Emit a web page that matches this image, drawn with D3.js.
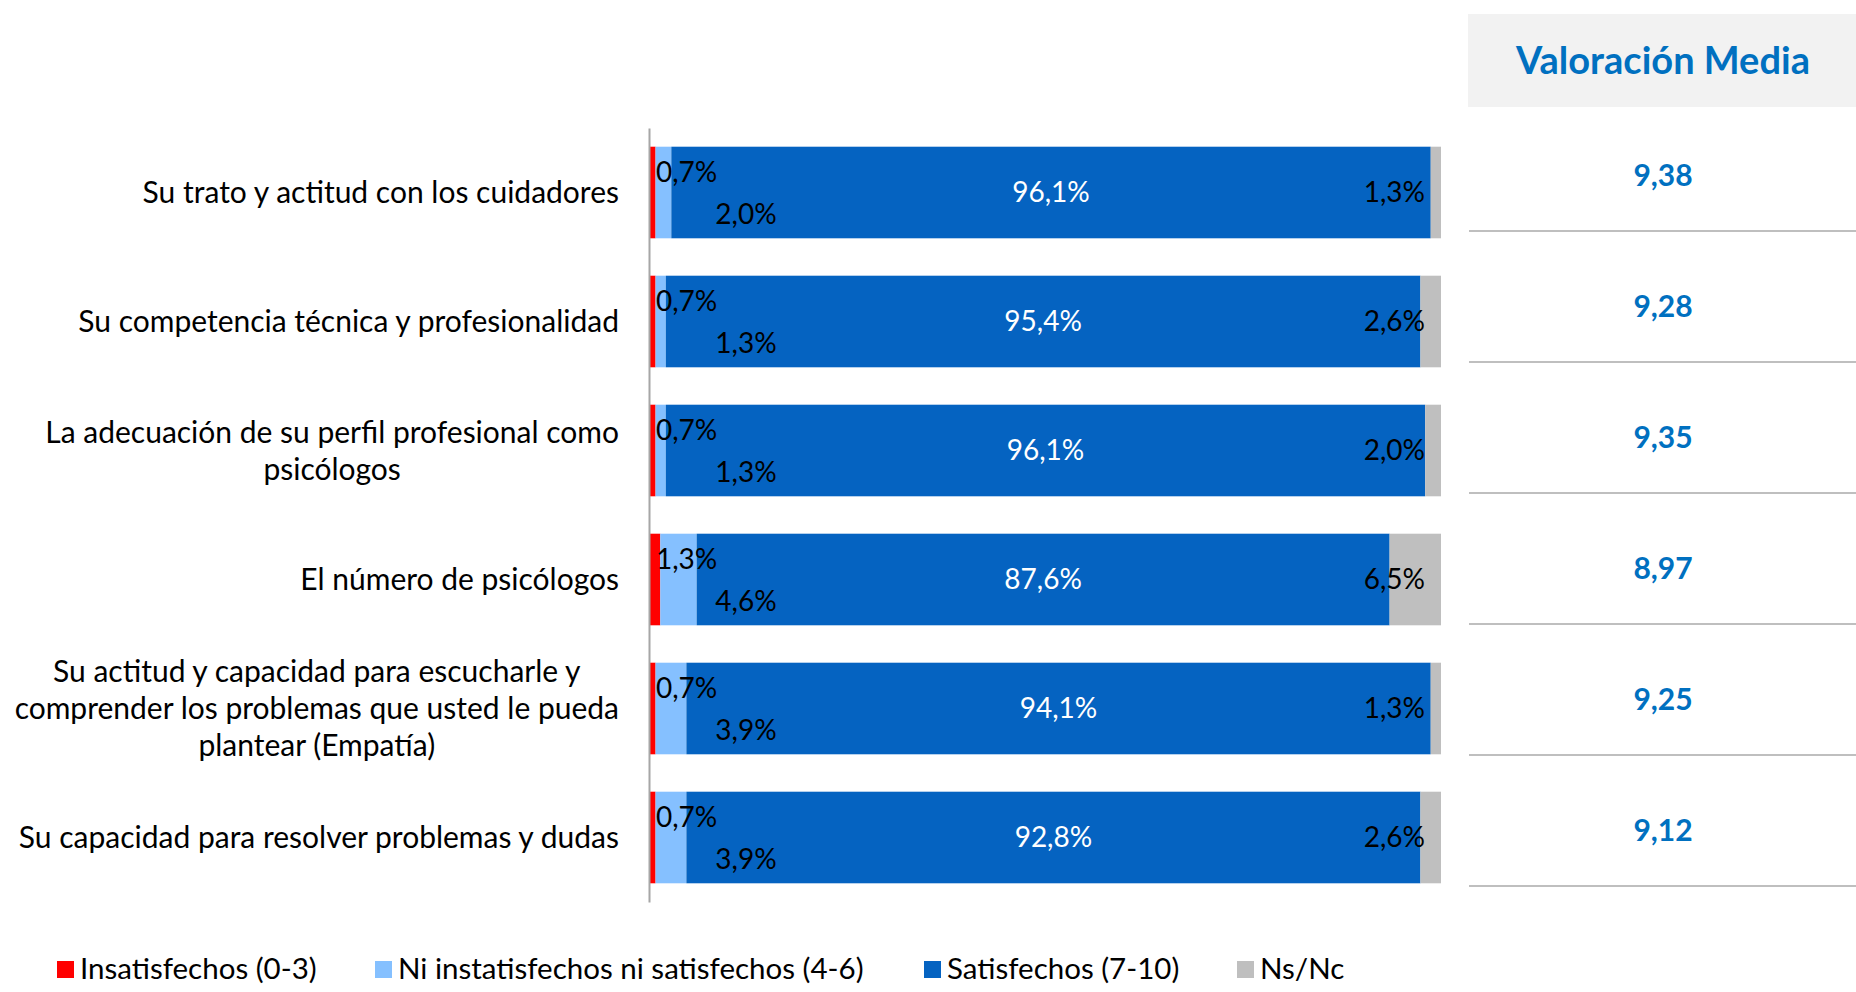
<!DOCTYPE html>
<html>
<head>
<meta charset="utf-8">
<script src="https://cdn.jsdelivr.net/npm/d3@7"></script>
<style>
  html, body { margin: 0; padding: 0; background: #fff; }
  svg { display: block; font-family: Lato, "Open Sans", sans-serif; }
</style>
</head>
<body>
<svg id="chart" width="1856" height="992"></svg>
<script>
// ---- data ----
const categories = [
  "Su trato y actitud con los cuidadores",
  "Su competencia técnica y profesionalidad",
  "La adecuación de su perfil profesional como\npsicólogos",
  "El número de psicólogos",
  "Su actitud y capacidad para escucharle y\ncomprender los problemas que usted le pueda\nplantear (Empatía)",
  "Su capacidad para resolver problemas y dudas"
];
const seriesNames = ["Insatisfechos (0-3)", "Ni instatisfechos ni satisfechos (4-6)", "Satisfechos (7-10)", "Ns/Nc"];
const insatisfechos = [0.7, 0.7, 0.7, 1.3, 0.7, 0.7];
const niSatisfechos = [2.0, 1.3, 1.3, 4.6, 3.9, 3.9];
const satisfechos   = [96.1, 95.4, 96.1, 87.6, 94.1, 92.8];
const nsnc          = [1.3, 2.6, 2.0, 6.5, 1.3, 2.6];
const valoracionMedia = [9.38, 9.28, 9.35, 8.97, 9.25, 9.12];
const tableTitle = "Valoración Media";

// ---- styles ----
const colors = ["#FF0000", "#85C0FF", "#0563C1", "#BFBFBF"];
const labelColors = ["#000", "#000", "#fff", "#000"];

const locale = d3.formatLocale({decimal: ",", thousands: ".", grouping: [3], currency: ["", "€"]});
const fmtPct = locale.format(".1f");
const fmtVal = locale.format(".2f");

const svg = d3.select("#chart");

const rows = categories.map((c, i) => ({
  cat: c,
  s0: insatisfechos[i], s1: niSatisfechos[i], s2: satisfechos[i], s3: nsnc[i]
}));
const keys = ["s0", "s1", "s2", "s3"];
const stacked = d3.stack().keys(keys).offset(d3.stackOffsetExpand)(rows);

const x = d3.scaleLinear().domain([0, 1]).range([650, 1441]);
const y = d3.scaleBand().domain(categories).range([128, 902]).paddingInner(0.29).paddingOuter(0.145);

// bars
const g = svg.append("g");
stacked.forEach((layer, li) => {
  g.selectAll(null).data(layer).enter().append("rect")
    .attr("x", d => x(d[0]))
    .attr("y", d => y(d.data.cat))
    .attr("width", d => Math.max(0, x(d[1]) - x(d[0])))
    .attr("height", y.bandwidth())
    .attr("fill", colors[li]);
});

// axis line (category axis)
const yAxis = d3.axisLeft(y).tickSize(0).tickFormat("");
svg.append("g").attr("transform", "translate(649,0)").call(yAxis)
  .call(s => s.select(".domain").attr("stroke", "#A6A6A6").attr("stroke-width", 2));

// category labels: block right-aligned, lines centered within block
categories.forEach(c => {
  const lines = c.split("\n");
  const lh = 37;
  const cy = y(c) + y.bandwidth() / 2;
  const t = svg.append("text").attr("font-size", 30).attr("fill", "#000").attr("text-anchor", "middle");
  lines.forEach((ln, k) => {
    t.append("tspan").text(ln)
      .attr("x", 0)
      .attr("y", cy + (k - (lines.length - 1) / 2) * lh)
      .attr("dy", "0.35em");
  });
  const w = t.node().getBBox().width;
  t.selectAll("tspan").attr("x", 619 - w / 2);
});

// value labels
const fs = 28;
stacked.forEach((layer, li) => {
  layer.forEach(d => {
    const v = d.data["s" + li];
    const cy = y(d.data.cat) + y.bandwidth() / 2;
    let tx, ty, anchor;
    if (li === 0) { tx = x(0) + 6; ty = cy - 20; anchor = "start"; }
    else if (li === 1) { tx = x(0) + 96; ty = cy + 22; anchor = "middle"; }
    else if (li === 2) { tx = (x(d[0]) + x(d[1])) / 2; ty = cy; anchor = "middle"; }
    else { tx = x(1) - 16; ty = cy; anchor = "end"; }
    svg.append("text")
      .attr("x", tx).attr("y", ty).attr("dy", "0.35em")
      .attr("text-anchor", anchor)
      .attr("font-size", fs)
      .attr("fill", labelColors[li])
      .text(fmtPct(v) + "%");
  });
});

// ---- table ----
svg.append("rect").attr("x", 1468).attr("y", 14).attr("width", 1856 - 1468).attr("height", 93).attr("fill", "#F2F2F2");
svg.append("text").attr("x", 1663).attr("y", 61).attr("dy", "0.35em")
  .attr("text-anchor", "middle").attr("font-size", 38).attr("font-weight", "bold")
  .attr("fill", "#0070C0").text(tableTitle);

const ty = d3.scaleBand().domain(d3.range(valoracionMedia.length)).range([100, 886]);
valoracionMedia.forEach((v, i) => {
  svg.append("line")
    .attr("x1", 1469).attr("x2", 1856)
    .attr("y1", ty(i) + ty.bandwidth()).attr("y2", ty(i) + ty.bandwidth())
    .attr("stroke", "#BFBFBF").attr("stroke-width", 2);
  svg.append("text")
    .attr("x", 1663).attr("y", ty(i) + ty.bandwidth() / 2 + 10).attr("dy", "0.35em")
    .attr("text-anchor", "middle").attr("font-size", 30).attr("font-weight", "bold")
    .attr("fill", "#0070C0").text(fmtVal(v));
});

// ---- legend ----
const legendX = [57, 375, 924, 1237];
const lg = svg.append("g");
seriesNames.forEach((n, i) => {
  lg.append("rect").attr("x", legendX[i]).attr("y", 961).attr("width", 17).attr("height", 17).attr("fill", colors[i]);
  lg.append("text").attr("x", legendX[i] + 23).attr("y", 969).attr("dy", "0.35em")
    .attr("font-size", 29.5).attr("fill", "#000").text(n);
});
</script>
</body>
</html>
